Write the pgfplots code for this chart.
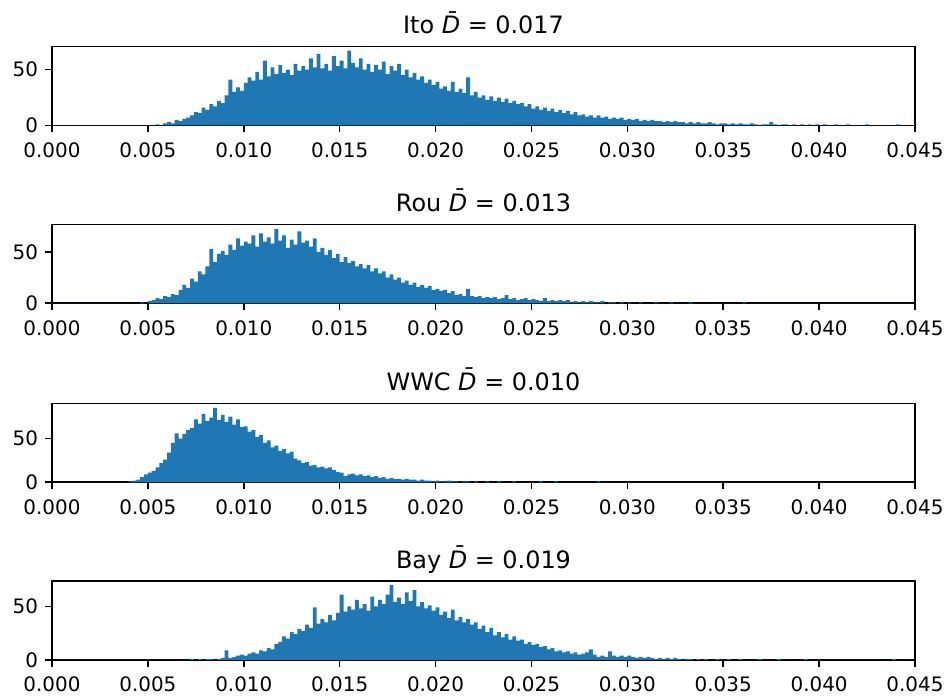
\documentclass[border=0pt]{standalone}
\usepackage{fontspec}
\setmainfont{DejaVu Sans}
\usepackage{pgfplots}
\pgfplotsset{compat=1.18}
\definecolor{tabblue}{HTML}{1F77B4}

\pgfplotsset{
  histpanel/.style={
    scale only axis, width=431.5bp, height=39.5bp,
    xmin=0, xmax=0.045, ymin=0,
    xtick={0,0.005,0.010,0.015,0.020,0.025,0.030,0.035,0.040,0.045},
    ytick={0,50},
    scaled x ticks=false,
    tick align=outside, tick pos=left,
    major tick length=3.5bp,
    every tick/.append style={black, line width=0.8bp},
    axis line style={line width=0.8bp},
    /pgf/number format/assume math mode=true,
    x tick label style={/pgf/number format/.cd, fixed, fixed zerofill, precision=3, /tikz/.cd, yshift=-1.5bp},
    tick label style={font=\fontsize{10}{12}\selectfont},
    every axis title shift=0pt,
    title style={font=\fontsize{12}{14}\selectfont, anchor=base, yshift=6.5bp, inner sep=0pt},
    anchor=north west,
  },
  histfill/.style={fill=tabblue, draw=none, const plot mark left},
}

\begin{document}
\begin{tikzpicture}
\path[use as bounding box] (-26bp,23.25bp) rectangle (449bp,-325.75bp);

% Ito
\begin{axis}[histpanel, at={(0,0)}, ymax=70.6, title={Ito {\itshape D\char"0304} = 0.017}]
\addplot[histfill] coordinates {
(0.0000,0) (0.0054,1) (0.0056,0) (0.0058,2) (0.0060,3) (0.0062,2) (0.0064,5) (0.0066,4)
(0.0068,6) (0.0070,7) (0.0072,9) (0.0074,12) (0.0076,11) (0.0078,16) (0.0080,14) (0.0082,19)
(0.0084,17) (0.0086,22) (0.0088,20) (0.0090,27) (0.0092,41) (0.0094,30) (0.0096,34) (0.0098,31)
(0.0100,38) (0.0102,43) (0.0104,40) (0.0106,48) (0.0108,41) (0.0110,58) (0.0112,44) (0.0114,52)
(0.0116,46) (0.0118,54) (0.0120,47) (0.0122,50) (0.0124,45) (0.0126,55) (0.0128,49) (0.0130,53)
(0.0132,50) (0.0134,60) (0.0136,52) (0.0138,64) (0.0140,51) (0.0142,55) (0.0144,49) (0.0146,62)
(0.0148,53) (0.0150,58) (0.0152,51) (0.0154,67) (0.0156,56) (0.0158,52) (0.0160,60) (0.0162,50)
(0.0164,55) (0.0166,48) (0.0168,54) (0.0170,50) (0.0172,57) (0.0174,46) (0.0176,53) (0.0178,49)
(0.0180,55) (0.0182,45) (0.0184,50) (0.0186,43) (0.0188,47) (0.0190,41) (0.0192,44) (0.0194,38)
(0.0196,41) (0.0198,36) (0.0200,39) (0.0202,33) (0.0204,35) (0.0206,31) (0.0208,39) (0.0210,30)
(0.0212,33) (0.0214,29) (0.0216,43) (0.0218,27) (0.0220,30) (0.0222,25) (0.0224,27) (0.0226,23)
(0.0228,26) (0.0230,22) (0.0232,25) (0.0234,21) (0.0236,24) (0.0238,20) (0.0240,22) (0.0242,19)
(0.0244,20) (0.0246,17) (0.0248,19) (0.0250,15) (0.0252,17) (0.0254,14) (0.0256,16) (0.0258,13)
(0.0260,15) (0.0262,12) (0.0264,14) (0.0266,11) (0.0268,13) (0.0270,10) (0.0272,12) (0.0274,9)
(0.0276,10) (0.0278,8) (0.0280,9) (0.0282,7) (0.0284,9) (0.0286,7) (0.0288,8) (0.0290,6)
(0.0292,7) (0.0294,6) (0.0296,7) (0.0298,5) (0.0300,6) (0.0302,5) (0.0304,6) (0.0306,4)
(0.0308,5) (0.0310,4) (0.0312,5) (0.0314,4) (0.0316,4) (0.0318,3) (0.0320,4) (0.0322,3)
(0.0324,4) (0.0326,3) (0.0328,3) (0.0330,2) (0.0332,3) (0.0334,2) (0.0336,3) (0.0338,2)
(0.0340,2) (0.0342,3) (0.0344,2) (0.0346,1) (0.0348,2) (0.0350,2) (0.0352,1) (0.0354,2)
(0.0356,1) (0.0358,2) (0.0360,1) (0.0362,1) (0.0364,2) (0.0366,1) (0.0368,0) (0.0370,1)
(0.0372,1) (0.0374,3) (0.0376,1) (0.0378,0) (0.0380,1) (0.0382,1) (0.0384,0) (0.0386,1)
(0.0388,0) (0.0390,1) (0.0392,0) (0.0394,1) (0.0396,0) (0.0398,1) (0.0400,0) (0.0402,1)
(0.0404,0) (0.0408,1) (0.0410,0) (0.0414,1) (0.0416,0) (0.0424,1) (0.0426,0) (0.0440,1)
(0.0442,0) (0.0450,0)
} \closedcycle;
\end{axis}

% Rou
\begin{axis}[histpanel, at={(0,-88.9bp)}, ymax=76.8, title={Rou {\itshape D\char"0304} = 0.013}]
\addplot[histfill] coordinates {
(0.0000,0) (0.0046,1) (0.0048,0) (0.0050,2) (0.0052,3) (0.0054,5) (0.0056,4) (0.0058,7)
(0.0060,6) (0.0062,9) (0.0064,8) (0.0066,13) (0.0068,18) (0.0070,15) (0.0072,24) (0.0074,21)
(0.0076,31) (0.0078,28) (0.0080,36) (0.0082,53) (0.0084,40) (0.0086,48) (0.0088,51) (0.0090,47)
(0.0092,57) (0.0094,52) (0.0096,63) (0.0098,56) (0.0100,60) (0.0102,58) (0.0104,66) (0.0106,55)
(0.0108,68) (0.0110,60) (0.0112,64) (0.0114,58) (0.0116,72) (0.0118,61) (0.0120,66) (0.0122,54)
(0.0124,62) (0.0126,57) (0.0128,70) (0.0130,59) (0.0132,61) (0.0134,55) (0.0136,63) (0.0138,50)
(0.0140,54) (0.0142,47) (0.0144,52) (0.0146,44) (0.0148,48) (0.0150,40) (0.0152,45) (0.0154,39)
(0.0156,41) (0.0158,36) (0.0160,38) (0.0162,34) (0.0164,37) (0.0166,31) (0.0168,34) (0.0170,29)
(0.0172,31) (0.0174,25) (0.0176,28) (0.0178,23) (0.0180,25) (0.0182,20) (0.0184,22) (0.0186,18)
(0.0188,20) (0.0190,16) (0.0192,18) (0.0194,15) (0.0196,17) (0.0198,13) (0.0200,14) (0.0202,12)
(0.0204,13) (0.0206,10) (0.0208,12) (0.0210,8) (0.0212,9) (0.0214,7) (0.0216,14) (0.0218,7)
(0.0220,6) (0.0222,7) (0.0224,5) (0.0226,6) (0.0228,5) (0.0230,6) (0.0232,4) (0.0234,5)
(0.0236,8) (0.0238,4) (0.0240,5) (0.0242,3) (0.0244,4) (0.0246,5) (0.0248,3) (0.0250,4)
(0.0252,3) (0.0254,2) (0.0256,5) (0.0258,2) (0.0260,3) (0.0262,2) (0.0264,3) (0.0266,2)
(0.0268,3) (0.0270,1) (0.0272,2) (0.0274,1) (0.0276,2) (0.0278,1) (0.0280,2) (0.0282,1)
(0.0284,1) (0.0286,2) (0.0288,0) (0.0290,1) (0.0292,1) (0.0294,0) (0.0296,1) (0.0298,0)
(0.0300,1) (0.0302,0) (0.0306,1) (0.0308,0) (0.0314,1) (0.0316,0) (0.0322,1) (0.0324,0)
(0.0332,1) (0.0334,0) (0.0360,1) (0.0362,0) (0.0450,0)
} \closedcycle;
\end{axis}

% WWC
\begin{axis}[histpanel, at={(0,-178.4bp)}, ymax=90.3, title={WWC {\itshape D\char"0304} = 0.010}]
\addplot[histfill] coordinates {
(0.0000,0) (0.0040,1) (0.0042,2) (0.0044,3) (0.0046,6) (0.0048,9) (0.0050,11) (0.0052,13)
(0.0054,17) (0.0056,22) (0.0058,26) (0.0060,34) (0.0062,45) (0.0064,56) (0.0066,50) (0.0068,55)
(0.0070,60) (0.0072,62) (0.0074,72) (0.0076,67) (0.0078,78) (0.0080,70) (0.0082,74) (0.0084,85)
(0.0086,71) (0.0088,77) (0.0090,69) (0.0092,75) (0.0094,66) (0.0096,72) (0.0098,63) (0.0100,64)
(0.0102,58) (0.0104,60) (0.0106,52) (0.0108,54) (0.0110,45) (0.0112,48) (0.0114,40) (0.0116,42)
(0.0118,36) (0.0120,38) (0.0122,33) (0.0124,35) (0.0126,27) (0.0128,25) (0.0130,22) (0.0132,23)
(0.0134,19) (0.0136,20) (0.0138,17) (0.0140,18) (0.0142,16) (0.0144,17) (0.0146,14) (0.0148,12)
(0.0150,11) (0.0152,7) (0.0154,9) (0.0156,10) (0.0158,8) (0.0160,9) (0.0162,7) (0.0164,8)
(0.0166,6) (0.0168,7) (0.0170,5) (0.0172,6) (0.0174,4) (0.0176,5) (0.0178,4) (0.0180,4)
(0.0182,3) (0.0184,4) (0.0186,3) (0.0188,3) (0.0190,2) (0.0192,3) (0.0194,2) (0.0196,2)
(0.0198,1) (0.0200,2) (0.0202,1) (0.0204,1) (0.0206,2) (0.0208,1) (0.0210,1) (0.0212,0)
(0.0214,1) (0.0216,1) (0.0218,0) (0.0220,1) (0.0222,0) (0.0226,1) (0.0228,0) (0.0232,1)
(0.0234,0) (0.0240,1) (0.0242,0) (0.0254,1) (0.0256,0) (0.0262,1) (0.0264,0) (0.0284,1)
(0.0286,0) (0.0450,0)
} \closedcycle;
\end{axis}

% Bay
\begin{axis}[histpanel, at={(0,-267.25bp)}, ymax=73.6, title={Bay {\itshape D\char"0304} = 0.019}]
\addplot[histfill] coordinates {
(0.0000,0) (0.0072,1) (0.0074,0) (0.0076,1) (0.0078,0) (0.0080,1) (0.0082,1) (0.0084,0)
(0.0086,1) (0.0088,2) (0.0090,9) (0.0092,2) (0.0094,3) (0.0096,4) (0.0098,5) (0.0100,4)
(0.0102,6) (0.0104,7) (0.0106,6) (0.0108,9) (0.0110,8) (0.0112,11) (0.0114,10) (0.0116,15)
(0.0118,17) (0.0120,22) (0.0122,20) (0.0124,26) (0.0126,24) (0.0128,29) (0.0130,27) (0.0132,33)
(0.0134,30) (0.0136,49) (0.0138,34) (0.0140,38) (0.0142,35) (0.0144,42) (0.0146,37) (0.0148,44)
(0.0150,61) (0.0152,45) (0.0154,50) (0.0156,47) (0.0158,56) (0.0160,48) (0.0162,52) (0.0164,46)
(0.0166,59) (0.0168,50) (0.0170,56) (0.0172,52) (0.0174,61) (0.0176,70) (0.0178,54) (0.0180,58)
(0.0182,52) (0.0184,63) (0.0186,55) (0.0188,65) (0.0190,50) (0.0192,54) (0.0194,48) (0.0196,51)
(0.0198,46) (0.0200,49) (0.0202,42) (0.0204,45) (0.0206,39) (0.0208,47) (0.0210,37) (0.0212,40)
(0.0214,35) (0.0216,38) (0.0218,33) (0.0220,35) (0.0222,29) (0.0224,32) (0.0226,26) (0.0228,30)
(0.0230,23) (0.0232,26) (0.0234,21) (0.0236,24) (0.0238,19) (0.0240,22) (0.0242,18) (0.0244,19)
(0.0246,15) (0.0248,17) (0.0250,14) (0.0252,15) (0.0254,12) (0.0256,13) (0.0258,10) (0.0260,11)
(0.0262,8) (0.0264,9) (0.0266,7) (0.0268,8) (0.0270,6) (0.0272,7) (0.0274,5) (0.0276,6)
(0.0278,7) (0.0280,10) (0.0282,5) (0.0284,3) (0.0286,4) (0.0288,3) (0.0290,8) (0.0292,4)
(0.0294,3) (0.0296,4) (0.0298,3) (0.0300,4) (0.0302,3) (0.0304,2) (0.0306,3) (0.0308,2)
(0.0310,3) (0.0312,2) (0.0314,1) (0.0316,2) (0.0318,1) (0.0320,2) (0.0322,1) (0.0324,2)
(0.0326,1) (0.0328,0) (0.0330,1) (0.0332,1) (0.0334,0) (0.0336,1) (0.0338,0) (0.0340,1)
(0.0342,0) (0.0346,1) (0.0348,0) (0.0352,1) (0.0354,0) (0.0358,1) (0.0360,0) (0.0368,1)
(0.0370,0) (0.0378,1) (0.0380,0) (0.0392,1) (0.0394,0) (0.0438,1) (0.0440,0) (0.0450,0)
} \closedcycle;
\end{axis}
\end{tikzpicture}
\end{document}
